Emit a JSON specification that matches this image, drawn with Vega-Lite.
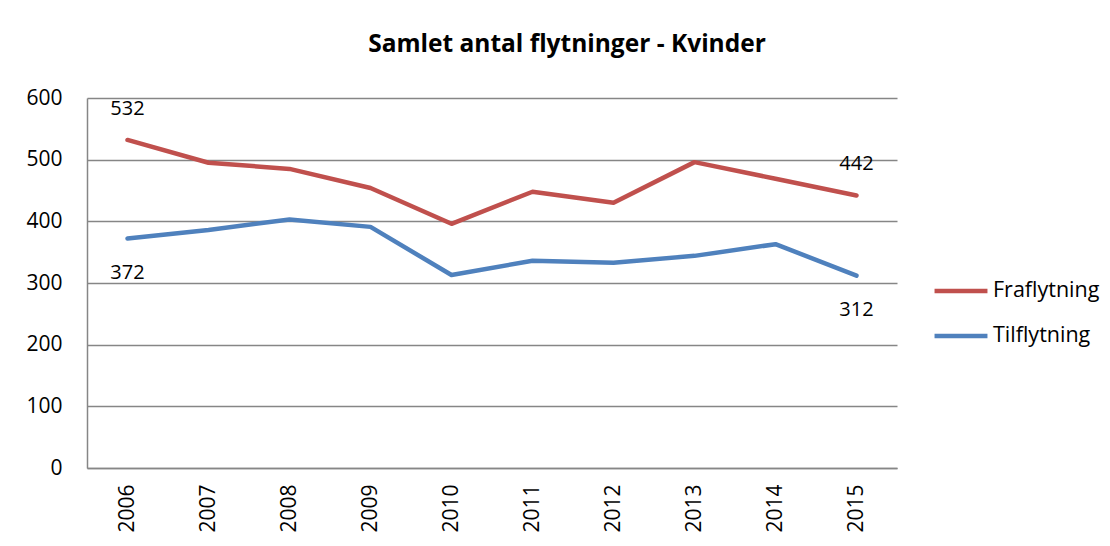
{
  "$schema": "https://vega.github.io/schema/vega-lite/v6.json",
  "width": 810,
  "height": 370,
  "autosize": {"type": "none"},
  "padding": {"left": 87, "top": 98, "right": 213, "bottom": 78},
  "background": "white",
  "config": {
    "font": "Open Sans",
    "view": {"stroke": null}
  },
  "title": {
    "text": "Samlet antal flytninger - Kvinder",
    "fontSize": 24.5,
    "fontWeight": "bold",
    "color": "black",
    "anchor": "middle",
    "dx": 75,
    "offset": 30
  },
  "data": {
    "values": [
      {"year": "2006", "series": "Fraflytning", "value": 532},
      {"year": "2007", "series": "Fraflytning", "value": 495},
      {"year": "2008", "series": "Fraflytning", "value": 485},
      {"year": "2009", "series": "Fraflytning", "value": 454},
      {"year": "2010", "series": "Fraflytning", "value": 396},
      {"year": "2011", "series": "Fraflytning", "value": 448},
      {"year": "2012", "series": "Fraflytning", "value": 430},
      {"year": "2013", "series": "Fraflytning", "value": 496},
      {"year": "2014", "series": "Fraflytning", "value": 469},
      {"year": "2015", "series": "Fraflytning", "value": 442},
      {"year": "2006", "series": "Tilflytning", "value": 372},
      {"year": "2007", "series": "Tilflytning", "value": 386},
      {"year": "2008", "series": "Tilflytning", "value": 403},
      {"year": "2009", "series": "Tilflytning", "value": 391},
      {"year": "2010", "series": "Tilflytning", "value": 313},
      {"year": "2011", "series": "Tilflytning", "value": 336},
      {"year": "2012", "series": "Tilflytning", "value": 333},
      {"year": "2013", "series": "Tilflytning", "value": 344},
      {"year": "2014", "series": "Tilflytning", "value": 363},
      {"year": "2015", "series": "Tilflytning", "value": 312}
    ]
  },
  "encoding": {
    "x": {
      "field": "year",
      "type": "ordinal",
      "scale": {"type": "point", "padding": 0.5},
      "axis": {
        "title": null,
        "labelAngle": -90,
        "labelAlign": "right",
        "labelBaseline": "middle",
        "labelFontSize": 21,
        "labelColor": "black",
        "labelPadding": 16,
        "ticks": false,
        "domainColor": "#868686",
        "domainWidth": 1.5,
        "grid": false
      }
    },
    "y": {
      "field": "value",
      "type": "quantitative",
      "scale": {"domain": [0, 600], "nice": false},
      "axis": {
        "title": null,
        "values": [0, 100, 200, 300, 400, 500, 600],
        "labelFontSize": 21,
        "labelColor": "black",
        "labelPadding": 25,
        "ticks": false,
        "domainColor": "#868686",
        "domainWidth": 1.5,
        "grid": true,
        "gridColor": "#868686",
        "gridWidth": 1.5
      }
    }
  },
  "layer": [
    {
      "mark": {"type": "line", "strokeWidth": 4.5, "strokeCap": "round", "strokeJoin": "round"},
      "encoding": {
        "color": {
          "field": "series",
          "type": "nominal",
          "scale": {"domain": ["Fraflytning", "Tilflytning"], "range": ["#C0504D", "#4F81BD"]},
          "legend": {
            "title": null,
            "orient": "none",
            "legendX": 845,
            "legendY": 164,
            "symbolType": "stroke",
            "symbolSize": 2800,
            "symbolStrokeWidth": 4.5,
            "labelFontSize": 21.5,
            "labelColor": "black",
            "labelOffset": 3,
            "rowPadding": 5
          }
        }
      }
    },
    {
      "transform": [
        {"filter": "datum.series == 'Fraflytning' && (datum.year == '2006' || datum.year == '2015')"}
      ],
      "mark": {"type": "text", "dy": -31, "fontSize": 20, "color": "black"},
      "encoding": {"text": {"field": "value", "type": "quantitative"}}
    },
    {
      "transform": [
        {"filter": "datum.series == 'Tilflytning' && (datum.year == '2006' || datum.year == '2015')"}
      ],
      "mark": {"type": "text", "dy": 34, "fontSize": 20, "color": "black"},
      "encoding": {"text": {"field": "value", "type": "quantitative"}}
    }
  ]
}
